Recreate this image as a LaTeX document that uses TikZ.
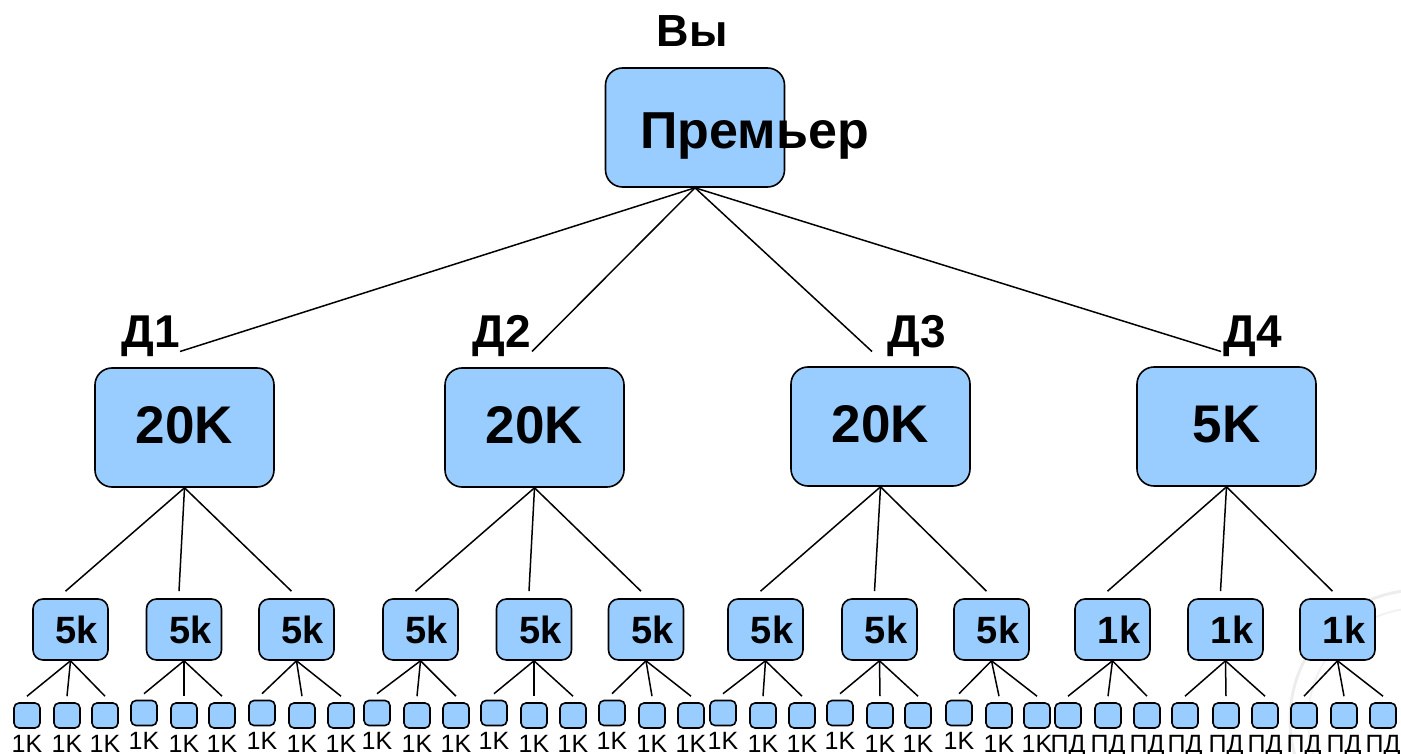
\documentclass[tikz,border=0pt]{standalone}
\usepackage{fontspec}
\setmainfont{Liberation Sans}
\definecolor{boxblue}{HTML}{99CCFF}
\begin{document}
\begin{tikzpicture}[x=1pt,y=-1pt,
  box/.style={draw=black, fill=boxblue, line width=1.6pt, inner sep=0pt},
  bigbox/.style={box, minimum width=179pt, minimum height=119pt, rounded corners=17pt},
  midbox/.style={box, minimum width=75pt, minimum height=61pt, rounded corners=10pt},
  smallbox/.style={box, minimum width=26pt, minimum height=25pt, rounded corners=5pt},
  conn/.style={line width=1.5pt},
  btxt/.style={font=\bfseries\fontsize{#1}{#1}\selectfont, inner sep=0pt, anchor=base},
  rtxt/.style={font=\fontsize{#1}{#1}\selectfont, inner sep=0pt, anchor=base}]
\useasboundingbox (0,0) rectangle (1401,754);
% faint watermark
\begin{scope}
  \clip (0,0) rectangle (1401,754);
  \draw[gray!14, line width=3pt] (1420,720) circle[radius=130];
  \draw[gray!10, line width=2pt] (1420,720) circle[radius=112];
\end{scope}
% top
\node[bigbox] (P) at (695,127.5) {};
\node[btxt=52] (Pt) at (754.5,149) {Премьер};
\node[btxt=45] (You) at (692,47) {Вы};
% level 2
\foreach \i/\x/\y/\t in {1/184.5/427.5/20K, 2/534.5/427.5/20K, 3/880.5/426.5/20K, 4/1226.5/426.5/5K}{
  \node[bigbox] (D\i) at (\x,\y) {};
  \node[btxt=53] (Dt\i) at (\x,\y+15.5) {\t};
}
\foreach \i/\x/\ex in {1/151/180, 2/502/532, 3/917/872, 4/1253/1221}{
  \node[btxt=46] (L\i) at (\x,347) {Д\i};
  \coordinate (E\i) at (\ex,351.5);
  \draw[conn] (P.south) -- (E\i);
}
% level 3
\foreach \i/\x/\t in {1/70.5/5k, 2/184/5k, 3/296.5/5k, 4/420.5/5k, 5/534/5k, 6/646/5k,
                      7/765.5/5k, 8/879.5/5k, 9/991.5/5k, 10/1112.5/1k, 11/1225.5/1k, 12/1337.5/1k}{
  \pgfmathtruncatemacro\p{int((\i+2)/3)}
  \node[midbox] (M\i) at (\x,629.5) {};
  \node[btxt=38] (Mt\i) at (\x+6.5,643) {\t};
  \draw[conn] (D\p.south) -- ([xshift=-5pt,yshift=7pt]M\i.north);
}
% level 4
\foreach \i/\x in {1/27, 2/67, 3/105, 4/144, 5/184, 6/222, 7/262, 8/302, 9/341,
                   10/377, 11/417, 12/456, 13/494, 14/534, 15/573, 16/612, 17/652, 18/691,
                   19/723, 20/763, 21/802, 22/840, 23/880, 24/918, 25/959, 26/999, 27/1037,
                   28/1068, 29/1108, 30/1147, 31/1185, 32/1226, 33/1265, 34/1304, 35/1344, 36/1383}{
  \pgfmathtruncatemacro\p{int((\i+2)/3)}
  \pgfmathtruncatemacro\m{mod(\i,3)}
  \pgfmathsetmacro\r{(\m==1 && \i>3 && \i<26) ? 2.5 : 0}
  \node[smallbox] (B\i) at (\x,715.5-\r) {};
  \node[rtxt=25] (T\i) at (\x,752-\r) {\ifnum\i>27 ПД\else 1K\fi};
  \draw[conn] (M\p.south) -- ([yshift=6pt]B\i.north);
}
\end{tikzpicture}
\end{document}
